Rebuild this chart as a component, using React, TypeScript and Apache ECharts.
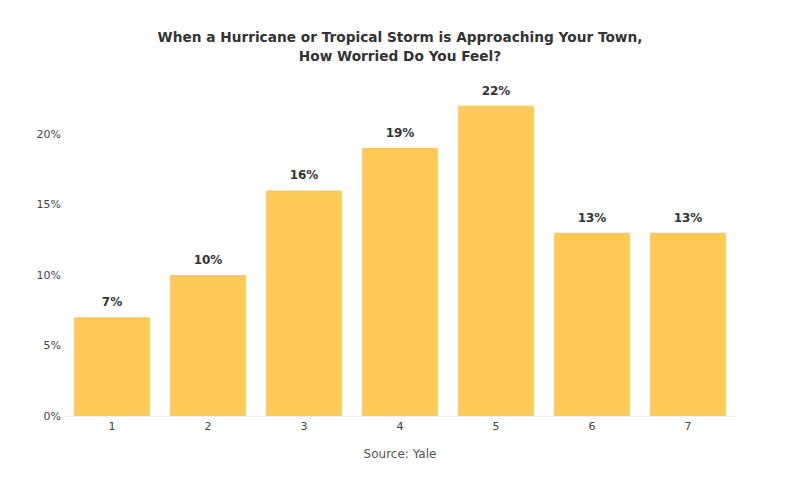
import React, { useEffect, useRef } from "react";
import * as echarts from "echarts";

const categories = ["1", "2", "3", "4", "5", "6", "7"];
const values = [7, 10, 16, 19, 22, 13, 13];
const yTicks = [0, 5, 10, 15, 20];
const titleText = "When a Hurricane or Tropical Storm is Approaching Your Town,\nHow Worried Do You Feel?";
const sourceText = "Source: Yale";

export default function App() {
  const ref = useRef<HTMLDivElement>(null);
  useEffect(() => {
    if (!ref.current) return;
    const chart = echarts.init(ref.current, undefined, { renderer: "svg" });
    chart.setOption({
      animation: false,
      backgroundColor: "#ffffff",
      textStyle: { fontFamily: "DejaVu Sans, Verdana, sans-serif" },
      title: [
        {
          text: titleText,
          left: "center",
          top: 22,
          textStyle: { fontSize: 13.7, fontWeight: "bold", color: "#333333", lineHeight: 19 },
        },
        {
          text: sourceText,
          left: "center",
          top: 443,
          textStyle: { fontSize: 12, fontWeight: "normal", color: "#555555" },
        },
      ],
      grid: { left: 64, right: 64, top: 63.5, bottom: 64 },
      xAxis: {
        type: "category",
        data: categories,
        axisLine: { show: true, lineStyle: { color: "#f0f0f0" } },
        axisTick: { show: false },
        axisLabel: { color: "#444444", fontSize: 11, margin: 5 },
      },
      yAxis: {
        type: "value",
        min: 0,
        max: 25,
        interval: 5,
        splitLine: { show: false },
        axisLine: { show: false },
        axisTick: { show: false },
        axisLabel: {
          color: "#444444",
          fontSize: 11,
          margin: 3,
          formatter: (v: number) => (yTicks.includes(v) ? v + "%" : ""),
        },
      },
      series: [
        {
          type: "bar",
          data: values,
          barCategoryGap: "21%",
          itemStyle: { color: "#FDCA57" },
          label: {
            show: true,
            position: "top",
            distance: 9,
            formatter: "{c}%",
            fontSize: 12,
            fontWeight: "bold",
            color: "#333333",
          },
        },
      ],
    });
    return () => chart.dispose();
  }, []);
  return <div ref={ref} style={{ width: 800, height: 480, position: "fixed", left: 0, top: 0 }} />;
}
